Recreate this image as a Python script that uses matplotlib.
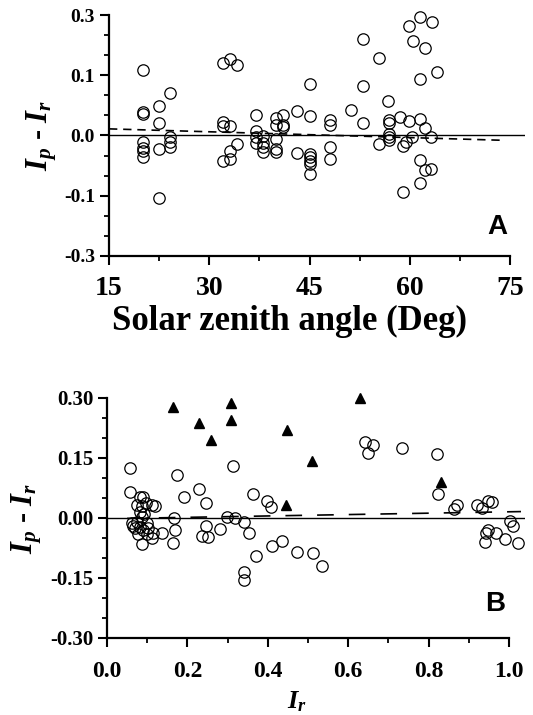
import numpy as np
import matplotlib
matplotlib.use("Agg")
import matplotlib.pyplot as plt
from matplotlib.ticker import FixedLocator, FixedFormatter

plt.rcParams['axes.unicode_minus'] = False
plt.rcParams['mathtext.fontset'] = 'custom'
plt.rcParams['mathtext.rm'] = 'Liberation Serif:bold'
plt.rcParams['mathtext.it'] = 'Liberation Serif:italic:bold'
plt.rcParams['mathtext.bf'] = 'Liberation Serif:bold'

# panel A: difference vs solar zenith angle
sza = [20.1, 20.1, 20.1, 20.1, 20.1, 20.1, 20.1, 22.45, 22.45, 22.45, 22.45,
       24.1, 24.1, 24.1, 24.1, 32.1, 33.1, 34.1, 32.1, 32.1, 33.1, 34.1, 33.1,
       32.1, 33.1, 37.0, 37.0, 37.0, 37.0, 38.0, 38.0, 38.0, 38.0, 40.0, 40.0,
       40.0, 40.0, 40.0, 41.0, 41.0, 41.0, 43.1, 43.1, 45.1, 45.1, 45.1, 45.1,
       45.1, 45.1, 45.1, 48.0, 48.0, 48.0, 48.0, 51.2, 53.0, 53.0, 53.0, 55.4,
       55.4, 56.7, 56.9, 56.9, 56.9, 56.9, 56.9, 58.5, 58.9, 59.4, 59.0, 59.9,
       59.9, 60.4, 60.3, 61.5, 63.3, 62.2, 61.5, 64.1, 61.5, 62.3, 63.2, 61.5,
       62.2, 63.2, 61.5]
diff_a = [0.117, 0.039, 0.035, -0.011, -0.021, -0.025, -0.036, 0.049, 0.021,
          -0.022, -0.106, 0.071, -0.003, -0.011, -0.019, 0.142, 0.153, 0.133,
          0.022, 0.016, 0.015, -0.014, -0.025, -0.042, -0.039, 0.034, 0.007,
          -0.003, -0.012, -0.001, -0.012, -0.019, -0.028, 0.029, 0.018, -0.006,
          -0.023, -0.028, 0.034, 0.017, 0.014, 0.040, -0.029, 0.085, 0.033,
          -0.031, -0.036, -0.042, -0.047, -0.064, 0.026, 0.018, -0.019, -0.039,
          0.042, 0.222, 0.082, 0.021, 0.156, -0.014, 0.058, 0.025, 0.021,
          0.003, -0.003, -0.007, 0.030, -0.017, -0.011, -0.093, 0.263, 0.024,
          0.213, -0.002, 0.294, 0.278, 0.191, 0.093, 0.111, 0.028, 0.013,
          -0.002, -0.040, -0.057, -0.056, -0.079]
fit_a_x = [15, 74]
fit_a_y = [0.011, -0.008]

# panel B: difference vs Ir
ir_circ = [0.057, 0.056, 0.082, 0.090, 0.097, 0.074, 0.086, 0.111, 0.119,
           0.082, 0.086, 0.074, 0.061, 0.099, 0.082, 0.070, 0.090, 0.103,
           0.115, 0.111, 0.086, 0.136, 0.099, 0.078, 0.092, 0.065, 0.173,
           0.167, 0.169, 0.163, 0.192, 0.228, 0.246, 0.246, 0.237, 0.252,
           0.281, 0.313, 0.299, 0.318, 0.342, 0.353, 0.364, 0.397, 0.408,
           0.370, 0.341, 0.341, 0.411, 0.436, 0.473, 0.513, 0.534, 0.642,
           0.662, 0.650, 0.735, 0.822, 0.824, 0.863, 0.871, 0.920, 0.934,
           0.948, 0.957, 0.948, 0.944, 0.968, 0.940, 0.990, 1.002, 1.011, 1.023]
diff_circ = [0.124, 0.066, 0.053, 0.053, 0.037, 0.033, 0.030, 0.033, 0.030,
             0.016, 0.003, -0.009, -0.013, -0.012, -0.022, -0.024, -0.030,
             -0.024, -0.038, -0.051, -0.065, -0.037, -0.040, -0.040, 0.010,
             -0.020, 0.107, -0.001, -0.030, -0.062, 0.053, 0.073, 0.037,
             -0.020, -0.044, -0.047, -0.028, 0.130, 0.002, -0.001, -0.009,
             -0.037, 0.060, 0.043, 0.027, -0.095, -0.136, -0.155, -0.069,
             -0.057, -0.086, -0.088, -0.119, 0.191, 0.183, 0.163, 0.176, 0.160,
             0.060, 0.022, 0.033, 0.033, 0.024, 0.043, 0.041, -0.030, -0.038,
             -0.038, -0.059, -0.053, -0.007, -0.020, -0.063]
ir_tri = [0.163, 0.230, 0.258, 0.308, 0.308, 0.447, 0.629, 0.511, 0.445, 0.830]
diff_tri = [0.277, 0.237, 0.195, 0.287, 0.245, 0.220, 0.299, 0.143, 0.033, 0.091]
fit_b_x = [0.05, 1.03]
fit_b_y = [-0.001, 0.016]


def fwd(v):
    v = np.asarray(v, dtype=float)
    a = np.abs(v)
    return np.where(a <= 0.1, v, np.sign(v) * (0.1 + (a - 0.1) / 2))


def inv(u):
    u = np.asarray(u, dtype=float)
    a = np.abs(u)
    return np.where(a <= 0.1, u, np.sign(u) * (0.1 + (a - 0.1) * 2))


tick_font = dict(family='Liberation Serif', weight='bold')


def style_axes(ax):
    for s in ['top', 'right']:
        ax.spines[s].set_visible(False)
    for s in ['left', 'bottom']:
        ax.spines[s].set_linewidth(1.6)
    ax.tick_params(which='major', direction='out', length=6.5, width=1.5)
    ax.tick_params(which='minor', direction='out', length=3.5, width=1.3)


fig = plt.figure(figsize=(5.33, 7.15), dpi=100)

# ---- panel A
ax1 = fig.add_axes([0.2045, 0.642, 0.7805, 0.337])
ax1.set_yscale('function', functions=(fwd, inv))
ax1.plot(sza, diff_a, 'o', mfc='none', mec='black', mew=0.9, ms=8.2, clip_on=False)
ax1.axhline(0, color='black', lw=1.0)
ax1.plot(fit_a_x, fit_a_y, color='black', lw=1.2, dashes=(5, 3.5))
ax1.set_xlim(15, 77.2)
ax1.set_ylim(-0.3, 0.3)
ax1.spines['bottom'].set_bounds(15, 75)
ax1.xaxis.set_major_locator(FixedLocator([15, 30, 45, 60, 75]))
ax1.xaxis.set_minor_locator(FixedLocator([22.5, 37.5, 52.5, 67.5]))
ax1.yaxis.set_major_locator(FixedLocator([-0.3, -0.1, 0.0, 0.1, 0.3]))
ax1.yaxis.set_major_formatter(FixedFormatter(['-0.3', '-0.1', '0.0', '0.1', '0.3']))
ax1.yaxis.set_minor_locator(FixedLocator(inv([-0.1667, -0.1333, -0.0667, -0.0333,
                                              0.0333, 0.0667, 0.1333, 0.1667])))
ax1.yaxis.set_minor_formatter(FixedFormatter([]))
style_axes(ax1)
ax1.tick_params(axis='x', which='major', pad=8)
for lab in ax1.get_xticklabels():
    lab.set(fontsize=20, **tick_font)
for lab in ax1.get_yticklabels():
    lab.set(fontsize=14, **tick_font)
ax1.set_xlabel('Solar zenith angle (Deg)', fontsize=25, **tick_font)
ax1.xaxis.set_label_coords(0.435, -0.205)
ax1.set_ylabel(r'$I_p$ - $I_r$', fontsize=22, labelpad=4, **tick_font)
ax1.text(0.933, 0.12, 'A', transform=ax1.transAxes, fontsize=20,
         family='Liberation Sans', weight='bold', ha='center', va='center')

# ---- panel B
ax2 = fig.add_axes([0.2008, 0.1077, 0.7842, 0.3357])
ax2.plot(ir_circ, diff_circ, 'o', mfc='none', mec='black', mew=0.9, ms=8.2, clip_on=False)
ax2.plot(ir_tri, diff_tri, '^', color='black', ms=7, clip_on=False)
ax2.axhline(0, color='black', lw=1.0)
ax2.plot(fit_b_x, fit_b_y, color='black', lw=1.2, dashes=(10, 9))
ax2.set_xlim(0, 1.04)
ax2.set_ylim(-0.3, 0.3)
ax2.spines['bottom'].set_bounds(0, 1.0)
ax2.xaxis.set_major_locator(FixedLocator(np.arange(0, 1.01, 0.2)))
ax2.xaxis.set_major_formatter(FixedFormatter(['0.0', '0.2', '0.4', '0.6', '0.8', '1.0']))
ax2.xaxis.set_minor_locator(FixedLocator([0.1, 0.3, 0.5, 0.7, 0.9]))
ax2.yaxis.set_major_locator(FixedLocator([-0.3, -0.15, 0.0, 0.15, 0.3]))
ax2.yaxis.set_major_formatter(FixedFormatter(['-0.30', '-0.15', '0.00', '0.15', '0.30']))
ax2.yaxis.set_minor_locator(FixedLocator([-0.25, -0.2, -0.1, -0.05, 0.05, 0.1, 0.2, 0.25]))
style_axes(ax2)
ax2.tick_params(axis='x', which='major', pad=10)
for lab in ax2.get_xticklabels():
    lab.set(fontsize=17, **tick_font)
for lab in ax2.get_yticklabels():
    lab.set(fontsize=15, **tick_font)
ax2.set_xlabel(r'$I_r$', fontsize=19, **tick_font)
ax2.xaxis.set_label_coords(0.455, -0.215)
ax2.set_ylabel(r'$I_p$ - $I_r$', fontsize=22, labelpad=4, **tick_font)
ax2.text(0.928, 0.142, 'B', transform=ax2.transAxes, fontsize=20,
         family='Liberation Sans', weight='bold', ha='center', va='center')

fig.savefig('out.png', dpi=100)
